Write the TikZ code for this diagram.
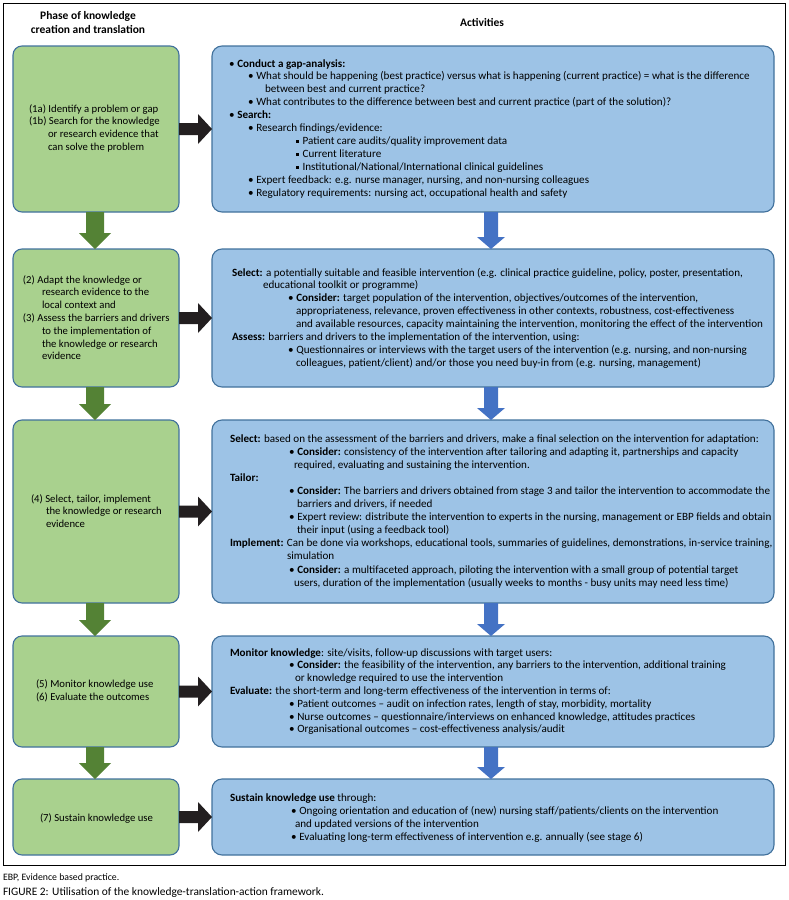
\documentclass[tikz,border=0pt]{standalone}
\usepackage{fontspec}
\setmainfont{Carlito}
\usetikzlibrary{calc}
\definecolor{gfill}{HTML}{A9D18E}
\definecolor{bfill}{HTML}{9DC3E6}
\definecolor{bdr}{HTML}{41719C}
\definecolor{garr}{HTML}{548235}
\definecolor{barr}{HTML}{4472C4}
\definecolor{karr}{HTML}{231F20}
\newcommand{\bul}{•\hspace{2.8pt}}
\newcommand{\sqb}{\raisebox{1.7pt}{\rule{2.6pt}{2.6pt}}\hspace{4pt}}
\newcommand{\varrow}[7]{%
  \fill[#7] let \p1=(#1.south), \p2=(#2.north) in
   (\x1+#3-#4,\y1) -- (\x1+#3+#4,\y1) -- (\x1+#3+#4,\y2+#6) -- (\x1+#3+#5,\y2+#6) -- (\x1+#3,\y2) -- (\x1+#3-#5,\y2+#6) -- (\x1+#3-#4,\y2+#6) -- cycle;}
\newcommand{\harrow}[5]{%
  \fill[karr] let \p1=(#1.east), \p2=(#2.west) in
   (\x1,\y1+#3) -- (\x2-#5,\y1+#3) -- (\x2-#5,\y1+#4) -- (\x2,\y1) -- (\x2-#5,\y1-#4) -- (\x2-#5,\y1-#3) -- (\x1,\y1-#3) -- cycle;}
\newcommand{\txtlines}[5]{%
  \foreach \lx/\lt [count=\li] in {#5} {
    \node[#4] (#1-\li) at (\lx, {#2+(\li-1)*#3}) {\lt};
  }}
\begin{document}
\begin{tikzpicture}[x=1pt,y=-1pt,
  gbox/.style={draw=bdr, line width=1.1pt, fill=gfill, rounded corners=9pt, inner sep=0pt, outer sep=0pt, minimum width=166pt},
  bbox/.style={draw=bdr, line width=1.1pt, fill=bfill, rounded corners=10pt, inner sep=0pt, outer sep=0pt, minimum width=562pt},
  txt/.style={anchor=base west, inner sep=0pt, outer sep=0pt, font=\fontsize{11.1}{13}\selectfont},
  gtxt/.style={anchor=base west, inner sep=0pt, outer sep=0pt, font=\fontsize{10.7}{13}\selectfont},
  head/.style={anchor=base, inner sep=0pt, font=\fontsize{11.5}{13}\selectfont\bfseries}]
\useasboundingbox (0,0) rectangle (789,900);
\draw[line width=1pt] (3,3) rectangle (785,865);
% headers
\node[head] (h1) at (88,19.5) {Phase of knowledge};
\node[head] (h2) at (88,33.5) {creation and translation};
\node[head] (h3) at (482,26) {Activities};
% boxes
\node[gbox, minimum height=166pt] (g1) at (96,129) {};
\node[gbox, minimum height=138pt] (g2) at (96,318) {};
\node[gbox, minimum height=183pt] (g3) at (96,511.5) {};
\node[gbox, minimum height=111pt] (g4) at (96,691.5) {};
\node[gbox, minimum height=76pt] (g5) at (96,817) {};
\node[bbox, minimum height=166pt] (b1) at (493,129) {};
\node[bbox, minimum height=138pt] (b2) at (493,318) {};
\node[bbox, minimum height=183pt] (b3) at (493,511.5) {};
\node[bbox, minimum height=111pt] (b4) at (493,691.5) {};
\node[bbox, minimum height=76pt] (b5) at (493,817) {};
% arrows
\foreach \a/\b in {g1/g2,g2/g3,g3/g4,g4/g5}{\varrow{\a}{\b}{-1pt}{9pt}{16pt}{16pt}{garr}}
\foreach \a/\b in {b1/b2,b2/b3,b3/b4,b4/b5}{\varrow{\a}{\b}{-2pt}{7pt}{14pt}{12pt}{barr}}
\foreach \a/\b in {g1/b1,g2/b2,g3/b3,g4/b4,g5/b5}{\harrow{\a}{\b}{6pt}{15pt}{14pt}}
% green texts
\txtlines{gt1}{112}{12.8}{gtxt}{29/{(1a) Identify a problem or gap}, 29/{(1b) Search for the knowledge}, 48/{or research evidence that}, 48/{can solve the problem}}
\txtlines{gt2}{283}{12.8}{gtxt}{23/{(2) Adapt the knowledge or}, 42/{research evidence to the}, 42/{local context and}, 23/{(3) Assess the barriers and drivers}, 42/{to the implementation of}, 42/{the knowledge or research}, 42/{evidence}}
\txtlines{gt3}{502}{12.6}{gtxt}{31/{(4) Select, tailor, implement}, 46/{the knowledge or research}, 46/{evidence}}
\txtlines{gt4}{687}{13.5}{gtxt}{36/{(5) Monitor knowledge use}, 36/{(6) Evaluate the outcomes}}
\txtlines{gt5}{821}{13}{gtxt}{40/{(7) Sustain knowledge use}}
% blue texts
\txtlines{bt1}{67}{12.9}{txt}{229/{\bul\textbf{Conduct a gap-analysis:}}, 248/{\bul What should be happening (best practice) versus what is happening (current practice) = what is the difference}, 265/{between best and current practice?}, 248/{\bul What contributes to the difference between best and current practice (part of the solution)?}, 229/{\bul\textbf{Search:}}, 248/{\bul Research findings/evidence:}, 296/{\sqb Patient care audits/quality improvement data}, 296/{\sqb Current literature}, 296/{\sqb Institutional/National/International clinical guidelines}, 248/{\bul Expert feedback: e.g. nurse manager, nursing, and non-nursing colleagues}, 248/{\bul Regulatory requirements: nursing act, occupational health and safety}}
\txtlines{bt2}{276}{12.9}{txt}{232/{\textbf{Select:} a potentially suitable and feasible intervention (e.g. clinical practice guideline, policy, poster, presentation,}, 263/{educational toolkit or programme)}, 288/{\bul\textbf{Consider:} target population of the intervention, objectives/outcomes of the intervention,}, 296/{appropriateness, relevance, proven effectiveness in other contexts, robustness, cost-effectiveness}, 296/{and available resources, capacity maintaining the intervention, monitoring the effect of the intervention}, 232/{\textbf{Assess:} barriers and drivers to the implementation of the intervention, using:}, 288/{\bul Questionnaires or interviews with the target users of the intervention (e.g. nursing, and non-nursing}, 296/{colleagues, patient/client) and/or those you need buy-in from (e.g. nursing, management)}}
\txtlines{bt3}{442}{13.1}{txt}{230/{\textbf{Select:} based on the assessment of the barriers and drivers, make a final selection on the intervention for adaptation:}, 289/{\bul\textbf{Consider:} consistency of the intervention after tailoring and adapting it, partnerships and capacity}, 294/{required, evaluating and sustaining the intervention.}, 230/{\textbf{Tailor:}}, 289/{\bul\textbf{Consider:} The barriers and drivers obtained from stage 3 and tailor the intervention to accommodate the}, 297/{barriers and drivers, if needed}, 289/{\bul Expert review: distribute the intervention to experts in the nursing, management or EBP fields and obtain}, 297/{their input (using a feedback tool)}, 230/{\textbf{Implement:} Can be done via workshops, educational tools, summaries of guidelines, demonstrations, in-service training,}, 287/{simulation}, 289/{\bul\textbf{Consider:} a multifaceted approach, piloting the intervention with a small group of potential target}, 294/{users, duration of the implementation (usually weeks to months - busy units may need less time)}}
\txtlines{bt4}{656}{12.8}{txt}{230/{\textbf{Monitor knowledge}: site/visits, follow-up discussions with target users:}, 289/{\bul\textbf{Consider:} the feasibility of the intervention, any barriers to the intervention, additional training}, 295/{or knowledge required to use the intervention}, 230/{\textbf{Evaluate:} the short-term and long-term effectiveness of the intervention in terms of:}, 289/{\bul Patient outcomes – audit on infection rates, length of stay, morbidity, mortality}, 289/{\bul Nurse outcomes – questionnaire/interviews on enhanced knowledge, attitudes practices}, 289/{\bul Organisational outcomes – cost-effectiveness analysis/audit}}
\txtlines{bt5}{801}{13.3}{txt}{230/{\textbf{Sustain knowledge use} through:}, 291/{\bul Ongoing orientation and education of (new) nursing staff/patients/clients on the intervention}, 295/{and updated versions of the intervention}, 291/{\bul Evaluating long-term effectiveness of intervention e.g. annually (see stage 6)}}
% captions
\node[txt, font=\fontsize{9.8}{11}\selectfont] (cap1) at (3,880) {EBP, Evidence based practice.};
\node[txt, font=\fontsize{11.4}{13}\selectfont] (cap2) at (3,895) {FIGURE 2: Utilisation of the knowledge-translation-action framework.};
\end{tikzpicture}
\end{document}
